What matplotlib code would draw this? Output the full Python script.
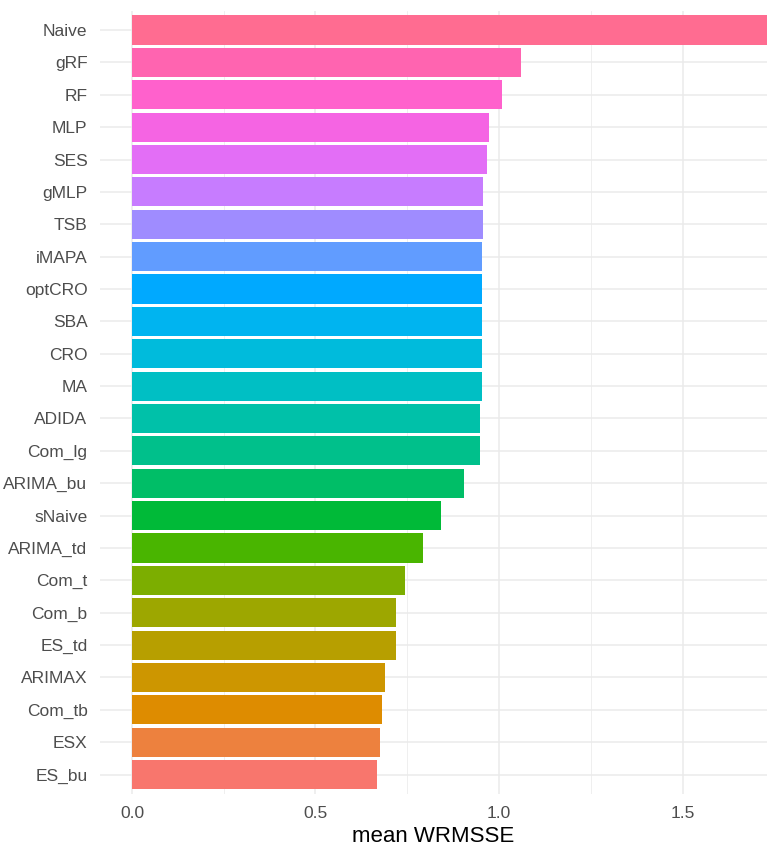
import numpy as np
import matplotlib
matplotlib.use("Agg")
import matplotlib.pyplot as plt

plt.rcParams['font.family'] = ['Liberation Sans', 'DejaVu Sans']

# bottom to top (first level at the bottom, like ggplot)
methods = ['ES_bu', 'ESX', 'Com_tb', 'ARIMAX', 'ES_td', 'Com_b', 'Com_t', 'ARIMA_td',
           'sNaive', 'ARIMA_bu', 'Com_lg', 'ADIDA', 'MA', 'CRO', 'SBA', 'optCRO',
           'iMAPA', 'TSB', 'gMLP', 'SES', 'MLP', 'RF', 'gRF', 'Naive']
wrmsse = [0.668, 0.677, 0.681, 0.689, 0.718, 0.718, 0.743, 0.793,
          0.842, 0.905, 0.949, 0.949, 0.954, 0.954, 0.954, 0.954,
          0.954, 0.957, 0.957, 0.967, 0.973, 1.008, 1.06, 1.74]


def hue_pal(n, c=100.0, l=65.0):
    # ggplot2 default discrete palette: hcl(h, c, l), h from 15 to 375
    hues = np.linspace(15, 375, n + 1)[:n]
    Xn, Yn, Zn = 95.047, 100.0, 108.883
    un = 4 * Xn / (Xn + 15 * Yn + 3 * Zn)
    vn = 9 * Yn / (Xn + 15 * Yn + 3 * Zn)
    out = []
    for h in hues:
        U = c * np.cos(np.radians(h))
        V = c * np.sin(np.radians(h))
        Y = Yn * ((l + 16) / 116) ** 3
        up = U / (13 * l) + un
        vp = V / (13 * l) + vn
        X = 9.0 * Y * up / (4 * vp)
        Z = -X / 3 - 5 * Y + 3 * Y / vp
        xyz = np.array([X, Y, Z]) / 100
        m = np.array([[3.240479, -1.537150, -0.498535],
                      [-0.969256, 1.875992, 0.041556],
                      [0.055648, -0.204043, 1.057311]])
        rgb = m @ xyz
        rgb = np.where(rgb > 0.00304, 1.055 * np.power(np.clip(rgb, 0, None), 1 / 2.4) - 0.055, 12.92 * rgb)
        out.append(tuple(np.clip(rgb, 0, 1)))
    return out


colors = hue_pal(len(methods))

fig = plt.figure(figsize=(7.67, 8.48), dpi=100)
ax = fig.add_axes([0.1304, 0.0637, 0.8696, 0.9238])

y = np.arange(len(methods))
ax.barh(y, wrmsse, height=0.9, color=colors, zorder=3)

ax.set_xlim(-0.087, 1.73)
ax.set_ylim(-0.6, len(methods) - 0.4)
ax.set_yticks(y)
ax.set_yticklabels(methods)
ax.set_xticks([0.0, 0.5, 1.0, 1.5])
ax.set_xticklabels(['0.0', '0.5', '1.0', '1.5'])
ax.set_xticks([0.25, 0.75, 1.25], minor=True)

ax.grid(True, which='major', color='#EBEBEB', linewidth=1.1, zorder=0)
ax.grid(True, which='minor', axis='x', color='#EBEBEB', linewidth=0.55, zorder=0)
for s in ax.spines.values():
    s.set_visible(False)
ax.tick_params(axis='both', which='both', length=0, colors='#4D4D4D', labelsize=12.5)
ax.tick_params(axis='y', pad=9)
ax.tick_params(axis='x', pad=9)
ax.set_xlabel('mean WRMSSE', fontsize=16, color='black', labelpad=3)

fig.savefig('out.png', dpi=100)
